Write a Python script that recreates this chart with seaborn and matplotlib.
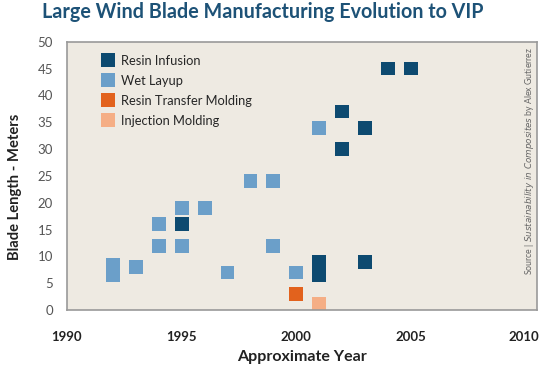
import matplotlib
matplotlib.use("Agg")
import matplotlib.pyplot as plt
import matplotlib.transforms as mtransforms
import pandas as pd
import seaborn as sns
from matplotlib.lines import Line2D

# Data
methods = ["Resin Infusion", "Wet Layup", "Resin Transfer Molding", "Injection Molding"]

infusion_year = [1995, 2001, 2001, 2002, 2002, 2003, 2003, 2004, 2005]
infusion_len = [16, 6.5, 9, 30, 37, 9, 34, 45, 45]

wet_year = [1992, 1992, 1993, 1994, 1994, 1995, 1995, 1996, 1997, 1998, 1999, 1999, 2000, 2001]
wet_len = [6.5, 8.4, 8, 12, 16, 12, 19, 19, 7, 24, 24, 12, 7, 34]

rtm_year = [2000]
rtm_len = [3]

inj_year = [2001]
inj_len = [1.2]

x_ticks = [1990, 1995, 2000, 2005, 2010]
y_ticks = [0, 5, 10, 15, 20, 25, 30, 35, 40, 45, 50]

colors = ["#0d4a70", "#6b9fc9", "#e2621d", "#f5ae85"]

df = pd.concat([
    pd.DataFrame({"year": infusion_year, "length": infusion_len, "method": methods[0]}),
    pd.DataFrame({"year": wet_year, "length": wet_len, "method": methods[1]}),
    pd.DataFrame({"year": rtm_year, "length": rtm_len, "method": methods[2]}),
    pd.DataFrame({"year": inj_year, "length": inj_len, "method": methods[3]}),
], ignore_index=True)

sns.set_theme(style="white")
plt.rcParams["font.family"] = ["Lato", "DejaVu Sans"]

fig = plt.figure(figsize=(5.4, 3.79), dpi=100)
ax = fig.add_axes([0.124, 0.182, 0.870, 0.708])
ax.set_facecolor("#eeeae2")

sns.scatterplot(data=df, x="year", y="length", hue="method", hue_order=methods,
                palette=colors, marker="s", s=100, linewidth=0, ax=ax,
                legend=False, clip_on=True)

ax.set_xlim(1990, 2010.48)
ax.set_ylim(0, 50)
ax.set_xticks(x_ticks)
ax.set_yticks(y_ticks)
ax.tick_params(axis="x", direction="out", length=5, width=0.8, color="#777777",
               labelsize=9.5, labelcolor="#222222", pad=10)
ax.tick_params(axis="y", direction="out", length=7, width=0.8, color="#777777",
               labelsize=9.5, labelcolor="#555555", pad=3)
for lab in ax.get_xticklabels():
    lab.set_fontweight("bold")
# nudge the last year label so it stays inside the figure
last = ax.get_xticklabels()[-1]
last.set_transform(last.get_transform() + mtransforms.ScaledTranslation(-2 / 100, 0, fig.dpi_scale_trans))
for sp in ax.spines.values():
    sp.set_color("#999999")
    sp.set_linewidth(1.2)

ax.set_xlabel("Approximate Year", fontsize=11.5, fontweight="bold", color="#222222", labelpad=5)
ax.set_ylabel("Blade Length - Meters", fontsize=10.6, fontweight="bold", color="#222222")
ax.yaxis.set_label_coords(-0.095, 0.46)

handles = [Line2D([0], [0], marker="s", color="none", markerfacecolor=c,
                  markeredgewidth=0, markersize=10) for c in colors]
ax.legend(handles, methods, loc="upper left", bbox_to_anchor=(0.058, 0.985),
          frameon=False, fontsize=9.3, handlelength=0.8, handletextpad=0.6,
          labelspacing=0.62, borderaxespad=0.3)

ax.text(0.985, 0.98, "Source | $\\it{Sustainability\\ in\\ Composites}$ by Alex Gutierrez",
        transform=ax.transAxes, rotation=90, ha="center", va="top",
        fontsize=6.3, color="#666666")

fig.suptitle("Large Wind Blade Manufacturing Evolution to VIP", x=0.487, y=0.995,
             fontsize=14.2, fontweight="bold", color="#1d5277", va="top")

fig.savefig("out.png", dpi=100)
